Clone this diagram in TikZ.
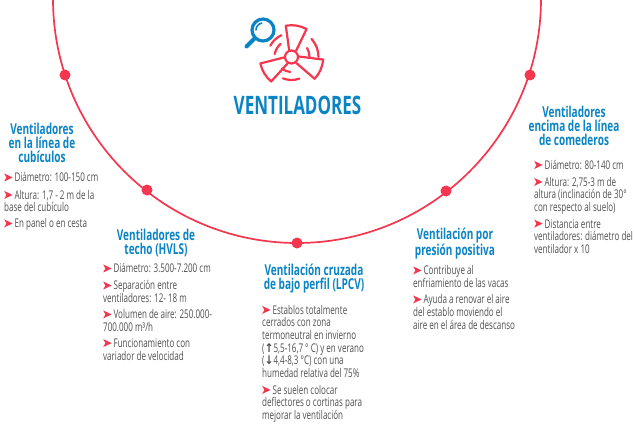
\documentclass[tikz,border=0pt]{standalone}
\usepackage{fontspec}
\setmainfont[FakeStretch=0.67]{Open Sans}
\newfontfamily\arrowfont[FakeStretch=0.9]{DejaVu Sans Bold}
\definecolor{accent}{HTML}{F5364F}
\definecolor{headblue}{HTML}{0A84C4}
\definecolor{bodygray}{HTML}{505050}
\newcommand{\bl}{\tikz[baseline=0pt,x=1pt,y=1pt]\fill[accent] (0,8.4) -- (8.4,4.4) -- (0,0.4) -- (2.2,4.4) -- cycle;\hspace{2pt}}
\tikzset{
  ring/.style={accent,line width=1.7pt},
  dotnode/.style={circle,fill=accent,minimum size=11pt,inner sep=0pt},
  headnode/.style={text=headblue,font=\bfseries\fontsize{15}{14.2}\selectfont,align=center,anchor=north,inner sep=0pt},
  bodynode/.style={text=bodygray,font=\fontsize{12}{12.6}\selectfont,align=left,anchor=north west,inner sep=0pt},
  titlenode/.style={text=headblue,font=\bfseries\fontsize{25.4}{26}\selectfont,inner sep=0pt},
  fanline/.style={accent,line width=2.2pt,line join=round,line cap=round},
  lensline/.style={headblue,line width=2.4pt,line cap=round}
}
\newcommand{\fanblade}[1]{\begin{scope}[rotate=#1]
  \draw[fanline] (7,-3.6) -- (30,-10.5) arc[start angle=-19.3,end angle=19.3,radius=31.8pt] -- (7,3.6);
\end{scope}}
\newcommand{\fanarc}[3]{\draw[fanline] (#1:#2pt) arc[start angle=#1,end angle=#3,radius=#2pt];}
\begin{document}
\begin{tikzpicture}[x=1pt,y=1pt]
\useasboundingbox (0,0) rectangle (634,-433);
% ring
\draw[ring] (53,1) arc[start angle=180,end angle=360,radius=244pt];
\node[dotnode] (d1) at (65,-75) {};
\node[dotnode] (d2) at (147,-190) {};
\node[dotnode] (d3) at (297,-243) {};
\node[dotnode] (d4) at (446,-191) {};
\node[dotnode] (d5) at (530,-75) {};
% icon: magnifier
\draw[lensline,line width=3.2pt] (263,-30) circle (11pt);
\draw[lensline,line width=1.6pt] (256,-30) arc[start angle=180,end angle=100,radius=7pt];
\draw[lensline,line width=4pt] (254.5,-38.5) -- (246.5,-46.5);
% icon: fan
\begin{scope}[shift={(291.5,-57)}]
  \draw[fanline] (0,0) circle (6.5pt);
  \fanblade{81}\fanblade{211}\fanblade{336}
  \fanarc{0}{27}{42}\fanarc{115}{24}{152}\fanarc{248}{23}{290}
  \fanarc{0}{18}{30}\fanarc{130}{17}{170}\fanarc{230}{15}{265}
\end{scope}
\node[titlenode] (title) at (297.5,-105.5) {VENTILADORES};
% block 1
\node[headnode] (h1) at (42,-123) {Ventiladores\\en la línea de\\cubículos};
\node[bodynode] (b1a) at (4,-172.5) {\bl Diámetro: 100-150 cm};
\node[bodynode] (b1b) at (4,-190) {\bl Altura: 1,7 - 2 m de la\\base del cubículo};
\node[bodynode] (b1c) at (4,-218.5) {\bl En panel o en cesta};
% block 2
\node[headnode] (h2) at (156,-229) {Ventiladores de\\techo (HVLS)};
\node[bodynode] (b2a) at (103,-263.5) {\bl Diámetro: 3.500-7.200 cm};
\node[bodynode] (b2b) at (103,-280.5) {\bl Separación entre\\ventiladores: 12- 18 m};
\node[bodynode] (b2c) at (103,-309.5) {\bl Volumen de aire: 250.000-\\700.000 m³/h};
\node[bodynode] (b2d) at (103,-338.5) {\bl Funcionamiento con\\variador de velocidad};
% block 3
\node[headnode] (h3) at (314,-264) {Ventilación cruzada\\de bajo perfil (LPCV)};
\node[bodynode] (b3a) at (262,-305) {\bl Establos totalmente\\cerrados con zona\\termoneutral en invierno\\({\arrowfont ↑}5,5-16,7 ° C) y en verano\\({\arrowfont ↓}4,4-8,3 °C) con una\\humedad relativa del 75\%};
\node[bodynode] (b3b) at (262,-385) {\bl Se suelen colocar\\deflectores o cortinas para\\mejorar la ventilación};
% block 4
\node[headnode] (h4) at (455,-228) {Ventilación por\\presión positiva};
\node[bodynode] (b4a) at (413,-265.5) {\bl Contribuye al\\enfriamiento de las vacas};
\node[bodynode] (b4b) at (413,-294.5) {\bl Ayuda a renovar el aire\\del establo moviendo el\\aire en el área de descanso};
% block 5
\node[headnode] (h5) at (574,-106) {Ventiladores\\encima de la línea\\de comederos};
\node[bodynode] (b5a) at (534,-160) {\bl Diámetro: 80-140 cm};
\node[bodynode] (b5b) at (534,-177) {\bl Altura: 2,75-3 m de\\altura (inclinación de 30°\\con respecto al suelo)};
\node[bodynode] (b5c) at (534,-219) {\bl Distancia entre\\ventiladores: diámetro del\\ventilador x 10};
\end{tikzpicture}
\end{document}
